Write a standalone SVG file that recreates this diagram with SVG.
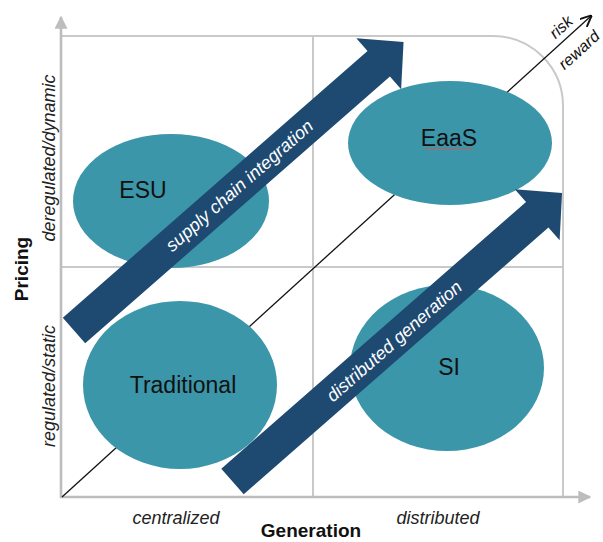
<svg xmlns="http://www.w3.org/2000/svg" width="603" height="542" viewBox="0 0 603 542">
  <style>
    .grid { fill: none; stroke: #c9c9c9; stroke-width: 2; }
    .axis { fill: none; stroke: #bdbdbd; stroke-width: 2.6; }
    .blob { fill: #3b96aa; }
    .band { fill: #1e4a72; }
    .node-label { font-family: "Liberation Sans", Arial, sans-serif; font-size: 23px; fill: #111; text-anchor: middle; }
    .band-label { font-family: "Liberation Sans", Arial, sans-serif; font-size: 18px; font-style: italic; fill: #ffffff; text-anchor: middle; dominant-baseline: central; }
    .tick-label { font-family: "Liberation Sans", Arial, sans-serif; font-size: 18px; font-style: italic; fill: #222; text-anchor: middle; }
    .axis-title { font-family: "Liberation Sans", Arial, sans-serif; font-size: 19px; font-weight: bold; fill: #111; text-anchor: middle; }
    .diag-label { font-family: "Liberation Sans", Arial, sans-serif; font-size: 16px; font-style: italic; fill: #111; text-anchor: middle; dominant-baseline: central; }
  </style>
  <defs>
    <marker id="axisHead" viewBox="0 0 10 10" refX="9" refY="5" markerWidth="5" markerHeight="5" orient="auto" markerUnits="strokeWidth">
      <path d="M0,0 L10,5 L0,10 Z" fill="#bdbdbd"/>
    </marker>
    <marker id="diagHead" viewBox="0 0 10 10" refX="9" refY="5" markerWidth="9" markerHeight="9" orient="auto" markerUnits="strokeWidth">
      <path d="M0,0.5 L10,5 L0,9.5" fill="none" stroke="#111" stroke-width="1.6"/>
    </marker>
    <!-- broad arrow drawn along +x from its tail midpoint -->
    <polygon id="bandShape" points="0,-17 405,-17 405,-34 438,0 405,34 405,17 0,17"/>
  </defs>

  <!-- quadrant grid -->
  <g id="grid">
    <path class="grid" d="M61,36 H493 A70,70 0 0 1 563,106 V497"/>
    <line class="grid" x1="313" y1="36" x2="313" y2="497"/>
    <line class="grid" x1="61" y1="267" x2="563" y2="267"/>
  </g>

  <!-- axes -->
  <g id="axes">
    <line class="axis" x1="61" y1="498" x2="61" y2="17" marker-end="url(#axisHead)"/>
    <line class="axis" x1="60" y1="497" x2="590" y2="497" marker-end="url(#axisHead)"/>
  </g>

  <!-- connectors: risk/reward diagonal -->
  <g id="connectors">
    <line x1="62" y1="497" x2="591" y2="16" stroke="#111" stroke-width="1.3" marker-end="url(#diagHead)"/>
  </g>

  <g id="node-esu">
    <ellipse class="blob" cx="171" cy="201" rx="98" ry="67"/>
    <text class="node-label" x="143" y="198">ESU</text>
  </g>

  <g id="node-eaas">
    <ellipse class="blob" cx="450" cy="143" rx="102" ry="62"/>
    <text class="node-label" x="449" y="146">EaaS</text>
    <path d="M425,149.5 l2,-1.5 l2,1.5 l2,-1.5 l2,1.5 l2,-1.5 l2,1.5 l2,-1.5 l2,1.5 l2,-1.5 l2,1.5 l2,-1.5 l2,1.5 l2,-1.5 l2,1.5 l2,-1.5 l2,1.5 l2,-1.5 l2,1.5 l2,-1.5 l2,1.5 l2,-1.5 l2,1.5 l2,-1.5 l2,1.5" fill="none" stroke="#d9534f" stroke-width="0.9"/>
  </g>

  <g id="node-traditional">
    <ellipse class="blob" cx="180" cy="385" rx="97" ry="84"/>
    <text class="node-label" x="183" y="393">Traditional</text>
  </g>

  <g id="node-si">
    <ellipse class="blob" cx="447" cy="368" rx="97" ry="83"/>
    <text class="node-label" x="449" y="375">SI</text>
  </g>

  <g id="band-supply-chain" transform="translate(74,330.5) rotate(-41.2)">
    <use href="#bandShape" class="band"/>
    <text class="band-label" x="220" y="0">supply chain integration</text>
  </g>

  <g id="band-distributed" transform="translate(232.5,481.5) rotate(-41.2)">
    <use href="#bandShape" class="band"/>
    <text class="band-label" x="214" y="1">distributed generation</text>
  </g>

  <!-- axis labels -->
  <g id="labels">
    <text class="axis-title" transform="translate(28,269) rotate(-90)">Pricing</text>
    <text class="tick-label" transform="translate(55,158) rotate(-90)">deregulated/dynamic</text>
    <text class="tick-label" transform="translate(55,386) rotate(-90)">regulated/static</text>
    <text class="tick-label" x="176" y="524">centralized</text>
    <text class="tick-label" x="438" y="524">distributed</text>
    <text class="axis-title" x="311" y="537">Generation</text>
    <text class="diag-label" transform="translate(561,27) rotate(-42.3)">risk</text>
    <text class="diag-label" transform="translate(579,50) rotate(-42.3)">reward</text>
  </g>
</svg>
